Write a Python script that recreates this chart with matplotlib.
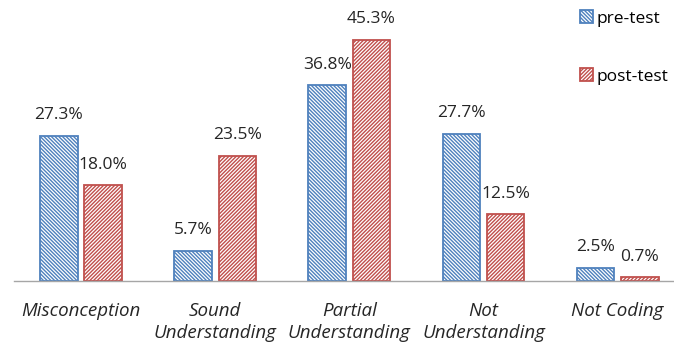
import numpy as np
import matplotlib
matplotlib.use("Agg")
import matplotlib.pyplot as plt

plt.rcParams['font.family'] = ['Open Sans', 'DejaVu Sans']
plt.rcParams['hatch.linewidth'] = 1.0

# --- Data --- #
categories = ["Misconception", "Sound\nUnderstanding", "Partial\nUnderstanding",
              "Not\nUnderstanding", "Not Coding"]
pre_test = [27.3, 5.7, 36.8, 27.7, 2.5]
post_test = [18.0, 23.5, 45.3, 12.5, 0.7]

blue = "#4f81bd"
red = "#c0504d"

fig = plt.figure(figsize=(6.74, 3.49), dpi=100)
ax = fig.add_axes([14 / 674, 68 / 349, 660 / 674, 271 / 349])

x = np.arange(len(categories))
w = 0.28
off = 0.165

b1 = ax.bar(x - off, pre_test, w, facecolor="white", edgecolor=blue,
            hatch="\\" * 9, linewidth=1.3, label="pre-test")
b2 = ax.bar(x + off, post_test, w, facecolor="white", edgecolor=red,
            hatch="/" * 9, linewidth=1.3, label="post-test")

# --- Value labels --- #
for bars, vals in [(b1, pre_test), (b2, post_test)]:
    for rect, v in zip(bars, vals):
        ax.annotate(f"{v:.1f}%", (rect.get_x() + rect.get_width() / 2, v),
                    xytext=(0, 9), textcoords="offset points",
                    ha="center", va="bottom", fontsize=12.5, color="#262626")

ax.set_xlim(-0.5, 4.42)
ax.set_ylim(0, 50.9)
ax.set_xticks(x)
ax.set_xticklabels(categories, style="italic", fontsize=13.5, color="#262626",
                   linespacing=1.3)
ax.tick_params(axis="x", length=0, pad=15)
ax.set_yticks([])
for s in ["top", "right", "left"]:
    ax.spines[s].set_visible(False)
ax.spines["bottom"].set_color("#a6a6a6")
ax.spines["bottom"].set_linewidth(1.0)

ax.legend(loc="upper left", bbox_to_anchor=(570 / 674, 1.0), bbox_transform=fig.transFigure,
          frameon=False, fontsize=12.5, handlelength=0.75, handleheight=0.75,
          handletextpad=0.2, labelspacing=2.4, borderaxespad=0.2)

plt.savefig("out.png", dpi=100)
